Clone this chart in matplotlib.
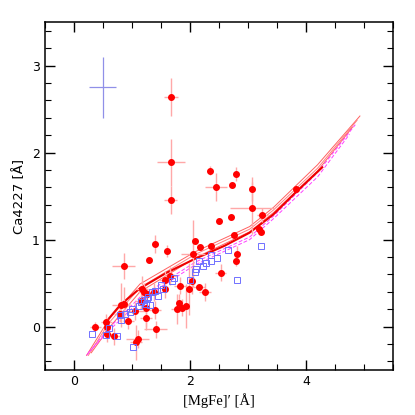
import matplotlib
matplotlib.use("Agg")
import matplotlib.pyplot as plt
from matplotlib.ticker import MultipleLocator

# Red galaxies with error bars: x, y, xerr, yerr
red_x = [1.68, 1.68, 1.67, 2.35, 2.45, 2.80, 2.72, 3.07, 3.07, 2.50, 2.70, 3.25, 3.19, 3.22, 3.82,
         2.76, 2.09, 2.17, 2.37, 1.40, 1.60, 2.05, 2.82, 2.80, 0.86, 1.29, 2.53, 2.04, 1.98, 2.16,
         2.26, 1.83, 1.66, 1.57, 1.57, 1.17, 1.21, 1.26, 1.38, 1.15, 1.24, 1.40, 1.05, 0.81, 0.86,
         0.79, 0.94, 1.24, 1.78, 1.86, 1.94, 1.82, 1.41, 0.37, 0.56, 0.57, 0.58, 0.69, 1.10, 1.07]
red_y = [2.64, 1.89, 1.455, 1.79, 1.60, 1.75, 1.63, 1.585, 1.36, 1.21, 1.26, 1.28, 1.12, 1.09, 1.585,
         1.05, 0.98, 0.91, 0.93, 0.95, 0.87, 0.84, 0.83, 0.75, 0.70, 0.77, 0.62, 0.53, 0.43, 0.45,
         0.40, 0.47, 0.58, 0.54, 0.43, 0.43, 0.40, 0.38, 0.40, 0.30, 0.21, 0.19, 0.18, 0.25, 0.26,
         0.15, 0.07, 0.10, 0.20, 0.22, 0.24, 0.27, -0.03, 0.00, 0.05, 0.00, -0.08, -0.11, -0.14, -0.18]
red_xerr = [0.12, 0.24, 0.11, 0.05, 0.19, 0.00, 0.00, 0.00, 0.38, 0.00, 0.00, 0.10, 0.00, 0.00, 0.00,
            0.00, 0.00, 0.00, 0.00, 0.05, 0.00, 0.21, 0.00, 0.00, 0.20, 0.00, 0.10, 0.00, 0.00, 0.10,
            0.10, 0.10, 0.10, 0.10, 0.00, 0.10, 0.10, 0.05, 0.10, 0.10, 0.10, 0.10, 0.20, 0.15, 0.10,
            0.10, 0.10, 0.10, 0.11, 0.10, 0.05, 0.05, 0.20, 0.10, 0.10, 0.05, 0.10, 0.10, 0.20, 0.10]
red_yerr = [0.22, 0.27, 0.16, 0.05, 0.16, 0.08, 0.00, 0.14, 0.30, 0.00, 0.00, 0.08, 0.00, 0.00, 0.00,
            0.00, 0.00, 0.00, 0.00, 0.10, 0.07, 0.38, 0.10, 0.05, 0.15, 0.00, 0.10, 0.15, 0.30, 0.00,
            0.10, 0.10, 0.10, 0.10, 0.10, 0.15, 0.10, 0.05, 0.10, 0.10, 0.25, 0.10, 0.10, 0.25, 0.20,
            0.10, 0.10, 0.10, 0.17, 0.10, 0.25, 0.10, 0.10, 0.05, 0.10, 0.10, 0.10, 0.10, 0.10, 0.20]

# Blue comparison sample (open squares)
blue_x = [0.32, 0.56, 0.74, 1.02, 0.60, 0.81, 0.79, 0.88, 0.97, 1.01, 1.13, 1.21, 1.26, 1.32, 1.28,
          1.34, 1.40, 1.45, 1.51, 1.54, 1.70, 1.72, 2.01, 2.09, 2.10, 2.16, 2.23, 2.28, 2.36, 2.47,
          2.37, 2.65, 2.82, 3.22, 1.15, 1.24]
blue_y = [-0.08, -0.10, -0.11, -0.23, -0.02, 0.08, 0.13, 0.14, 0.17, 0.20, 0.24, 0.31, 0.32, 0.25, 0.34,
          0.40, 0.41, 0.35, 0.48, 0.43, 0.53, 0.56, 0.54, 0.63, 0.66, 0.75, 0.70, 0.73, 0.76, 0.79,
          0.82, 0.88, 0.54, 0.93, 0.28, 0.26]

# Typical error cross
cross_x, cross_y, cross_xerr, cross_yerr = 0.50, 2.75, 0.235, 0.35

# Model tracks
thick_x = [0.55, 0.8, 1.14, 1.6, 2.09, 2.6, 3.03, 3.44, 3.82, 4.28]
thick_y = [0.05, 0.25, 0.44, 0.62, 0.78, 0.93, 1.08, 1.29, 1.54, 1.83]

thin1_x = [0.22, 0.6, 1.14, 2.09, 3.03, 3.44, 4.2, 4.93]
thin1_y = [-0.33, 0.08, 0.49, 0.86, 1.15, 1.37, 1.86, 2.42]
thin2_x = [0.25, 0.6, 1.14, 2.09, 3.03, 3.44, 4.2, 4.88]
thin2_y = [-0.33, 0.04, 0.45, 0.83, 1.12, 1.34, 1.82, 2.37]
thin3_x = [0.30, 0.65, 1.14, 2.09, 3.03, 3.44, 4.2, 4.80]
thin3_y = [-0.30, 0.02, 0.40, 0.79, 1.09, 1.31, 1.79, 2.29]

dash1_x = [0.22, 0.6, 1.14, 2.09, 3.03, 3.44, 4.2, 4.85]
dash1_y = [-0.33, -0.02, 0.34, 0.74, 1.03, 1.27, 1.77, 2.32]
dash2_x = [0.25, 0.6, 1.14, 2.09, 3.03, 3.44, 4.2, 4.75]
dash2_y = [-0.30, -0.05, 0.30, 0.71, 1.00, 1.24, 1.72, 2.21]

fig = plt.figure(figsize=(4.15, 4.15), dpi=100)
ax = fig.add_axes([0.108, 0.108, 0.839, 0.839])

ax.plot(thin1_x, thin1_y, color="#ff6060", lw=0.7)
ax.plot(thin2_x, thin2_y, color="#ff8080", lw=0.7)
ax.plot(thin3_x, thin3_y, color="#ff6060", lw=0.7)
ax.plot(dash1_x, dash1_y, color="#ff40ff", lw=0.7, ls=(0, (4, 2)))
ax.plot(dash2_x, dash2_y, color="#ff40ff", lw=0.7, ls=(0, (4, 2)))
ax.plot(thick_x, thick_y, color="#ee0000", lw=1.5)

ax.errorbar(red_x, red_y, xerr=red_xerr, yerr=red_yerr, fmt="none",
            ecolor="#ffa8a8", elinewidth=1.0, capsize=0)
ax.plot(red_x, red_y, "o", color="#ff0000", ms=4.0, mec="#ff0000", zorder=5)
ax.plot(blue_x, blue_y, "s", mfc="none", mec="#7070ff", ms=5, mew=0.7, zorder=6)

ax.errorbar([cross_x], [cross_y], xerr=[cross_xerr], yerr=[cross_yerr], fmt="none",
            ecolor="#9090e8", elinewidth=0.9, capsize=0)

ax.set_xlim(-0.5, 5.5)
ax.set_ylim(-0.5, 3.5)
ax.xaxis.set_major_locator(MultipleLocator(2))
ax.xaxis.set_minor_locator(MultipleLocator(0.5))
ax.yaxis.set_major_locator(MultipleLocator(1))
ax.yaxis.set_minor_locator(MultipleLocator(0.2))
ax.tick_params(which="both", direction="in", top=True, right=True, labelsize=9)
ax.tick_params(which="major", length=7, width=1.0)
ax.tick_params(which="minor", length=4, width=0.8)
for s in ax.spines.values():
    s.set_linewidth(1.1)

ax.set_xlabel("[MgFe]\u2032 [Å]", family="Liberation Serif", fontsize=10.5)
ax.set_ylabel("Ca4227 [Å]", fontsize=9.5)

fig.savefig("out.png", dpi=100)
